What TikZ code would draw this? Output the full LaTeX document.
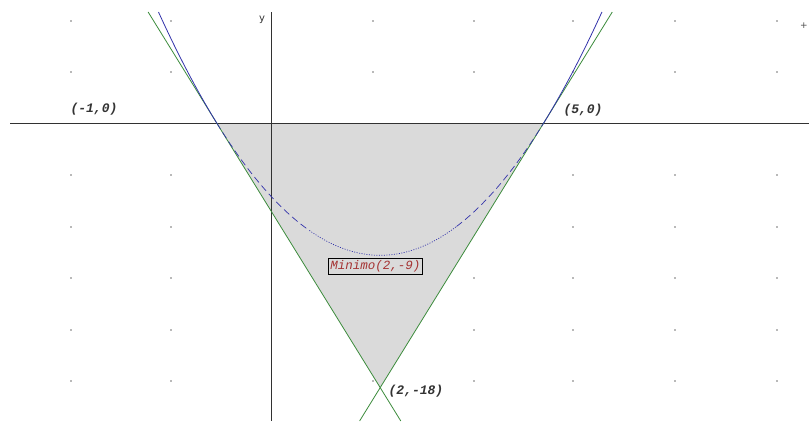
\documentclass[tikz,border=0pt]{standalone}
\usepackage{fontspec}
\setmonofont{Liberation Mono}
\setsansfont{DejaVu Sans}
\definecolor{tanline}{RGB}{60,140,60}
\definecolor{parab}{RGB}{50,50,170}
\definecolor{axiscol}{RGB}{50,50,50}
\definecolor{shadecol}{RGB}{218,218,218}
\definecolor{minred}{RGB}{165,50,50}
\tikzset{
  ptlabel/.style={font=\fontsize{13}{13}\selectfont\ttfamily\bfseries\itshape, text=black!80, inner sep=0pt},
  minbox/.style={draw=black, line width=0.8pt, fill=shadecol, font=\fontsize{12.5}{12.5}\selectfont\ttfamily\itshape, text=minred, inner sep=2pt},
  tangent/.style={draw=tanline, line width=0.8pt},
  curve/.style={draw=parab, line width=0.8pt},
  axisline/.style={draw=axiscol, line width=1pt},
  griddot/.style={fill=black!55}
}
\begin{document}
\begin{tikzpicture}[x=1pt,y=-1pt]
\useasboundingbox (0,0) rectangle (809,421);
\fill[white] (0,0) rectangle (809,421);
% grid dots
\foreach \gx in {71,171,373,474,573,675,777}
  \foreach \gy in {21,72,175,227,278,330,381}
    \fill[griddot] (\gx,\gy) circle (0.8);
\begin{scope}[shift={(271.2,123)}, x=54.5pt, y=14.7pt]
  \coordinate (A) at (-1,0);
  \coordinate (B) at (5,0);
  \coordinate (C) at (2,-18);
  \coordinate (M) at (2,-9);
  \fill[shadecol] (A) -- (B) -- (C) -- cycle;
  % axes
  \draw[axisline] (-4.79,0) -- (9.87,0);
  \draw[axisline] (0,7.55) -- (0,-20.3);
  % tangent lines
  \draw[tangent] (-2.258,7.55) -- (A) -- (C) -- (2.378,-20.27);
  \draw[tangent] (6.258,7.55) -- (B) -- (C) -- (1.622,-20.27);
  % parabola: solid outside the region
  \draw[curve] plot[domain=-2.068:-1, samples=30] (\x,{\x*\x-4*\x-5});
  \draw[curve] plot[domain=5:6.068, samples=30] (\x,{\x*\x-4*\x-5});
  % inside the region
  \draw[curve, line width=0.7pt, dash pattern=on 7pt off 4pt] plot[domain=-1:0.7, samples=40] (\x,{\x*\x-4*\x-5});
  \draw[curve, line width=0.7pt, dash pattern=on 1pt off 1.5pt] plot[domain=0.7:3.4, samples=60] (\x,{\x*\x-4*\x-5});
  \draw[curve, line width=0.7pt, dash pattern=on 7pt off 4pt] plot[domain=3.4:5, samples=40] (\x,{\x*\x-4*\x-5});
\end{scope}
% labels
\node[font=\sffamily\fontsize{10}{10}\selectfont, text=black!80] (ylab) at (262,20) {y};
\node[ptlabel] (lA) at (94,109) {(-1,0)};
\node[ptlabel] (lB) at (583,110) {(5,0)};
\node[ptlabel] (lC) at (416,391) {(2,-18)};
\node[minbox] (lM) at (375.5,266.5) {Minimo(2,-9)};
\node[font=\sffamily\fontsize{9}{9}\selectfont, text=black!70, inner sep=0pt] (plus) at (804,26) {+};
\end{tikzpicture}
\end{document}
